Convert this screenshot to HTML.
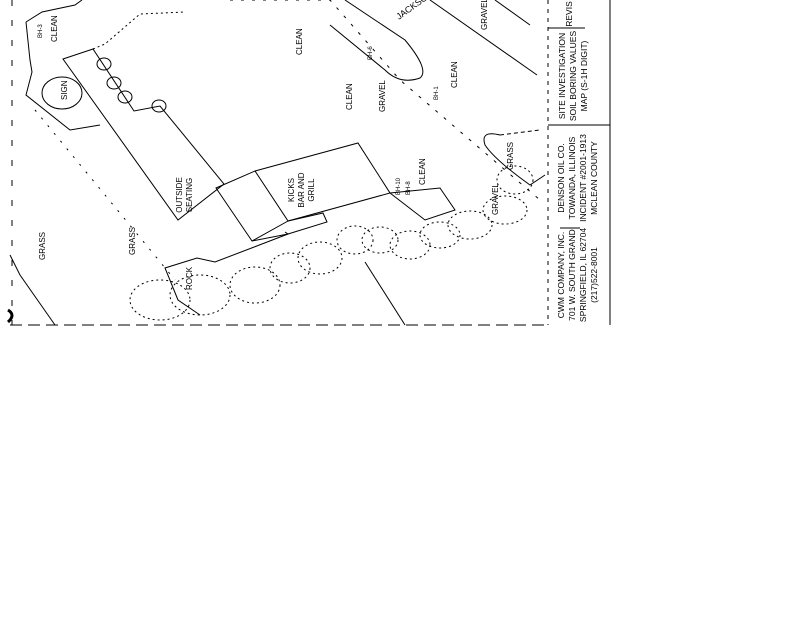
<!DOCTYPE html>
<html><head><style>
html,body{margin:0;padding:0;background:#fff;}
svg{display:block}
text{font-family:"Liberation Sans Narrow","Liberation Sans",sans-serif;fill:#000;}
</style></head><body>
<svg width="800" height="618" viewBox="0 0 800 618" xmlns="http://www.w3.org/2000/svg">
<rect width="800" height="618" fill="#fff"/>
<g fill="none" stroke="#000" stroke-width="1">
<!-- left dashed boundary -->
<line x1="12" y1="0" x2="12" y2="325" stroke-dasharray="6,14"/>
<line x1="10" y1="325" x2="548" y2="325" stroke-dasharray="12,6"/>
<!-- top left curb -->
<path d="M26,22 L42,12 L75,5 L82,0"/>
<path d="M26,22 L30,60 L32,72 L26,95 L70,130 L100,125"/>
<path d="M63,59 L93,49 L134,111 L160,106 L224,184 L178,220 Z"/>
<path d="M93,49 L105,44 L140,14 L185,12" stroke-dasharray="2,3"/>
<path d="M216,188 L255,171 L288,221 L252,241 Z"/>
<path d="M255,171 L358,143 L390,193 L288,221"/>
<path d="M252,241 L288,234 L285,232"/>
<path d="M288,221 L323,213 L327,222 L288,234"/>
<path d="M288,234 L215,262 L197,258 L165,268 L178,300 L200,315"/>
<!-- porch -->
<path d="M390,193 L440,188 L455,210 L425,220 Z"/>
<!-- circles on seating -->
<ellipse cx="104" cy="64" rx="7" ry="6"/>
<ellipse cx="114" cy="83" rx="7" ry="6"/>
<ellipse cx="125" cy="97" rx="7" ry="6"/>
<ellipse cx="159" cy="106" rx="7" ry="6"/>
<ellipse cx="62" cy="93" rx="20" ry="16"/>
<!-- dashed diagonal lines -->
<path d="M35,110 L175,280" stroke-dasharray="2,8"/>
<path d="M230,0 L330,0 L400,80 L540,200" stroke-dasharray="3,8"/>
<!-- jackson road -->
<path d="M345,0 L405,40 Q430,70 420,78 Q400,85 385,70 L330,25"/>
<path d="M430,0 L537,75"/>
<path d="M495,0 L530,25"/>
<path d="M500,135 Q480,130 485,145 Q495,160 530,185 L545,175"/>
<path d="M500,135 L540,130" stroke-dasharray="4,3"/>
<!-- tree dashed circles -->
<g stroke-dasharray="2,3">
<ellipse cx="505" cy="210" rx="22" ry="14"/>
<ellipse cx="470" cy="225" rx="22" ry="14"/>
<ellipse cx="440" cy="235" rx="20" ry="13"/>
<ellipse cx="410" cy="245" rx="20" ry="14"/>
<ellipse cx="380" cy="240" rx="18" ry="13"/>
<ellipse cx="355" cy="240" rx="18" ry="14"/>
<ellipse cx="320" cy="258" rx="22" ry="16"/>
<ellipse cx="290" cy="268" rx="20" ry="15"/>
<ellipse cx="255" cy="285" rx="25" ry="18"/>
<ellipse cx="200" cy="295" rx="30" ry="20"/>
<ellipse cx="160" cy="300" rx="30" ry="20"/>
<ellipse cx="515" cy="180" rx="18" ry="14"/>
</g>
<path d="M365,262 L405,325"/>
<path d="M10,255 L20,275 L55,325"/>
<!-- title block -->
<line x1="548" y1="0" x2="548" y2="325" stroke-dasharray="4,5"/>
<line x1="610" y1="0" x2="610" y2="325"/>
<line x1="548" y1="28" x2="585" y2="28"/>
<line x1="548" y1="125" x2="610" y2="125"/>
<line x1="560" y1="228" x2="580" y2="228"/>
</g>
<path d="M8,310 q8,5 0,12" stroke="#000" stroke-width="3" fill="none"/>
<g font-size="8">
<text transform="translate(45,260) rotate(-90)">GRASS</text>
<text transform="translate(135,255) rotate(-90)">GRASS</text>
<text transform="translate(67,100) rotate(-90)">SIGN</text>
<text transform="translate(182,195) rotate(-90)" text-anchor="middle">OUTSIDE</text>
<text transform="translate(192,195) rotate(-90)" text-anchor="middle">SEATING</text>
<text transform="translate(294,190) rotate(-90)" text-anchor="middle">KICKS</text>
<text transform="translate(304,190) rotate(-90)" text-anchor="middle">BAR AND</text>
<text transform="translate(314,190) rotate(-90)" text-anchor="middle">GRILL</text>
<text transform="translate(192,290) rotate(-90)">ROCK</text>
<text transform="translate(425,185) rotate(-90)">CLEAN</text>
<text transform="translate(498,215) rotate(-90)">GRAVEL</text>
<text transform="translate(513,170) rotate(-90)">GRASS</text>
<text transform="translate(385,112) rotate(-90)">GRAVEL</text>
<text transform="translate(352,110) rotate(-90)">CLEAN</text>
<text transform="translate(302,55) rotate(-90)">CLEAN</text>
<text transform="translate(457,88) rotate(-90)">CLEAN</text>
<text transform="translate(487,30) rotate(-90)">GRAVEL</text>
<text transform="translate(57,42) rotate(-90)">CLEAN</text>
<text transform="translate(42,38) rotate(-90)" font-size="6">BH-3</text>
<text transform="translate(400,195) rotate(-90)" font-size="6">BH-10</text>
<text transform="translate(410,195) rotate(-90)" font-size="6">BH-8</text>
<text transform="translate(372,60) rotate(-90)" font-size="6">BH-6</text>
<text transform="translate(438,100) rotate(-90)" font-size="6">BH-1</text>
<text transform="translate(399,20) rotate(-36)" font-size="9">JACKSON</text>
</g>
<g font-size="8.5" text-anchor="middle">
<text transform="translate(564,178) rotate(-90)">DENSON OIL CO.</text>
<text transform="translate(575,178) rotate(-90)">TOWANDA, ILLINOIS</text>
<text transform="translate(586,178) rotate(-90)">INCIDENT #2001-1913</text>
<text transform="translate(597,178) rotate(-90)">MCLEAN COUNTY</text>
<text transform="translate(565,76) rotate(-90)">SITE INVESTIGATION</text>
<text transform="translate(576,76) rotate(-90)">SOIL BORING VALUES</text>
<text transform="translate(587,76) rotate(-90)">MAP (S-1H DIGIT)</text>
<text transform="translate(564,275) rotate(-90)">CWM COMPANY, INC.</text>
<text transform="translate(575,275) rotate(-90)">701 W. SOUTH GRAND</text>
<text transform="translate(586,275) rotate(-90)">SPRINGFIELD, IL 62704</text>
<text transform="translate(597,275) rotate(-90)">(217)522-8001</text>
<text transform="translate(572,14) rotate(-90)">REVIS</text>
</g>
</svg>
</body></html>
